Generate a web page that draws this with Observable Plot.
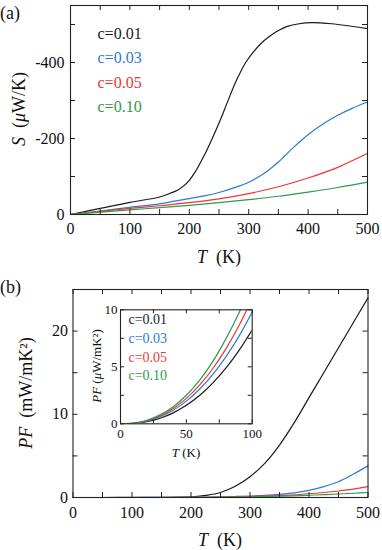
<!DOCTYPE html>
<html><head><meta charset="utf-8">
<script src="https://cdn.jsdelivr.net/npm/d3@7"></script>
<script src="https://cdn.jsdelivr.net/npm/@observablehq/plot@0.6"></script>
<style>
body{margin:0;background:#fff;}
#wrap{position:relative;width:382px;height:550px;overflow:hidden;font-family:"Liberation Serif","DejaVu Serif",serif;background:#fff;}
#wrap svg{position:absolute;}
#wrap svg text{font-family:"Liberation Serif","DejaVu Serif",serif !important;}
</style></head><body><div id="wrap"></div>
<script>
// ---- series / legend ----
const seriesLabels = ["c=0.01", "c=0.03", "c=0.05", "c=0.10"];
const seriesColors = ["#1a1a1a", "#2e7bcf", "#ee3535", "#2f9a4a"];

// ---- (a) Seebeck coefficient S (µV/K) vs T (K) ----
const tS_c001 = [0, 50, 100, 150, 168, 180, 191, 200, 210, 225, 238, 252, 266, 280, 295, 308, 322, 337, 350, 365, 385, 405, 440, 470, 500];
const S_c001  = [0, -16, -32, -46, -56, -64, -76, -90, -112, -155, -198, -248, -303, -355, -400, -428, -452, -471, -484, -495, -502, -505, -502, -496, -489];
const tS_c003 = [0, 50, 100, 150, 175, 200, 225, 250, 275, 300, 325, 350, 375, 400, 425, 450, 475, 500];
const S_c003  = [0, -9, -19, -28, -35, -42, -49, -58, -70, -85, -107, -138, -176, -210, -238, -261, -280, -296];
const tS_c005 = [0, 50, 100, 150, 200, 250, 300, 350, 400, 450, 500];
const S_c005  = [0, -8, -16, -23, -31, -41, -55, -73, -96, -124, -161];
const tS_c010 = [0, 50, 100, 150, 200, 250, 300, 350, 400, 450, 500];
const S_c010  = [0, -6, -12, -18, -24, -31, -39, -48, -59, -71, -85];

// ---- (b) power factor PF (mW/mK^2) vs T (K) ----
const tPF = [0, 50, 100, 150, 200, 225, 250, 275, 300, 325, 350, 375, 400, 425, 450, 475, 500];
const PF_c001 = [0, 0, 0.01, 0.02, 0.08, 0.25, 0.6, 1.35, 2.5, 4.1, 6.3, 9.0, 12.0, 15.0, 18.0, 21.0, 24.0];
const PF_c003 = [0, 0, 0, 0.01, 0.03, 0.05, 0.08, 0.12, 0.18, 0.26, 0.38, 0.55, 0.85, 1.3, 1.9, 2.8, 3.8];
const PF_c005 = [0, 0, 0, 0, 0.01, 0.02, 0.04, 0.07, 0.11, 0.16, 0.23, 0.32, 0.45, 0.6, 0.78, 1.0, 1.3];
const PF_c010 = [0, 0, 0, 0, 0.01, 0.02, 0.03, 0.05, 0.08, 0.11, 0.15, 0.2, 0.27, 0.34, 0.42, 0.51, 0.6];

// ---- inset: PF (µW/mK^2) vs T (K), 0-100 K ----
const tIn = [0, 10, 20, 30, 40, 50, 60, 70, 80, 90, 100];
const In_c001 = [0, 0.04, 0.19, 0.49, 0.96, 1.62, 2.48, 3.57, 4.88, 6.44, 8.25];
const In_c003 = [0, 0.05, 0.24, 0.62, 1.19, 1.99, 3.03, 4.32, 5.87, 7.69, 9.8];
const In_c005 = [0, 0.055, 0.27, 0.69, 1.34, 2.23, 3.39, 4.83, 6.57, 8.62, 10.98];
const In_c010 = [0, 0.06, 0.31, 0.78, 1.5, 2.5, 3.8, 5.45, 7.45, 9.75, 12.4];

// ---- ticks ----
const xTicksMain = [0, 50, 100, 150, 200, 250, 300, 350, 400, 450, 500];
const xLabelsMain = [0, 100, 200, 300, 400, 500];
const yTicksS = [0, -100, -200, -300, -400, -500];
const yLabelsS = [0, -200, -400];
const yTicksPF = [0, 5, 10, 15, 20];
const yLabelsPF = [0, 10, 20];
const xTicksIn = [0, 25, 50, 75, 100];
const xLabelsIn = [0, 50, 100];
const yTicksIn = [0, 2.5, 5, 7.5, 10];
const yLabelsIn = [0, 5, 10];

function table(pairs) {
  const rows = [];
  pairs.forEach(([ts, vs], i) => ts.forEach((t, j) => rows.push({T: t, v: vs[j], c: seriesLabels[i]})));
  return rows;
}
const dataS = table([[tS_c001, S_c001], [tS_c003, S_c003], [tS_c005, S_c005], [tS_c010, S_c010]]);
const dataPF = table([[tPF, PF_c001], [tPF, PF_c003], [tPF, PF_c005], [tPF, PF_c010]]);
const dataIn = table([[tIn, In_c001], [tIn, In_c003], [tIn, In_c005], [tIn, In_c010]]);

function inwardTicks(xt, yt, innerW, innerH, len) {
  return [
    Plot.tickX(xt, {x: d => d, insetTop: innerH - len, stroke: "#222"}),
    Plot.tickX(xt, {x: d => d, insetBottom: innerH - len, stroke: "#222"}),
    Plot.tickY(yt, {y: d => d, insetRight: innerW - len, stroke: "#222"}),
    Plot.tickY(yt, {y: d => d, insetLeft: innerW - len, stroke: "#222"})
  ];
}
function legend(dx, dy0, step, size) {
  return seriesLabels.map((l, i) => Plot.text([l], {
    text: d => d, frameAnchor: "top-left", dx, dy: dy0 + i * step,
    textAnchor: "start", lineAnchor: "middle", fill: seriesColors[i], fontSize: size
  }));
}
const FONT = "Liberation Serif, DejaVu Serif, serif";
const color = {domain: seriesLabels, range: seriesColors};

function addText(svg, x, y, parts, opts = {}) {
  const t = d3.select(svg).append("text")
    .attr("x", x).attr("y", y)
    .attr("text-anchor", opts.anchor || "middle")
    .attr("dominant-baseline", "central")
    .attr("font-size", opts.size || 18)
    .attr("fill", "#111");
  if (opts.rotate) t.attr("transform", `rotate(-90 ${x} ${y})`);
  parts.forEach(([s, it]) => t.append("tspan").attr("font-style", it ? "italic" : "normal").text(s));
  return t;
}

const wrap = document.getElementById("wrap");

// ---- panel (a) ----
{
  const W = 382, H = 270, mL = 70, mR = 15, mT = 5, mB = 56;
  const svg = Plot.plot({
    width: W, height: H, marginLeft: mL, marginRight: mR, marginTop: mT, marginBottom: mB,
    style: {fontFamily: FONT, fontSize: "16px", background: "transparent", color: "#111"},
    x: {domain: [0, 500], axis: null},
    y: {domain: [0, -550], axis: null},
    color,
    marks: [
      Plot.line(dataS, {x: "T", y: "v", z: "c", stroke: "c", strokeWidth: 1.2, curve: "catmull-rom"}),
      ...inwardTicks(xTicksMain, yTicksS, W - mL - mR, H - mT - mB, 5),
      Plot.axisX(xLabelsMain, {tickSize: 0, tickPadding: 8, label: null, fontSize: 16}),
      Plot.axisY(yLabelsS, {tickSize: 0, tickPadding: 6, label: null, fontSize: 16, tickFormat: d => String(d)}),
      ...legend(27, 28, 24.5, 16),
      Plot.frame({stroke: "#222", strokeWidth: 1.1})
    ]
  });
  svg.style.left = "0px"; svg.style.top = "0px";
  wrap.appendChild(svg);
  addText(svg, 0, 13, [["(a)", false]], {anchor: "start", size: 18});
  addText(svg, 219, 257, [["T", true], ["  (K)", false]], {size: 18});
  addText(svg, 19, 109, [["S", true], ["  (", false], ["μ", true], ["W/K)", false]], {size: 18, rotate: true});
}

// ---- panel (b) ----
{
  const W = 382, H = 280, mL = 72.5, mR = 14.5, mT = 19, mB = 53;
  const svg = Plot.plot({
    width: W, height: H, marginLeft: mL, marginRight: mR, marginTop: mT, marginBottom: mB,
    style: {fontFamily: FONT, fontSize: "16px", background: "transparent", color: "#111"},
    x: {domain: [0, 500], axis: null},
    y: {domain: [0, 25], axis: null},
    color,
    marks: [
      Plot.line(dataPF, {x: "T", y: "v", z: "c", stroke: "c", strokeWidth: 1.2, curve: "monotone-x"}),
      ...inwardTicks(xTicksMain, yTicksPF, W - mL - mR, H - mT - mB, 5),
      Plot.axisX(xLabelsMain, {tickSize: 0, tickPadding: 9, label: null, fontSize: 16}),
      Plot.axisY(yLabelsPF, {tickSize: 0, tickPadding: 5, label: null, fontSize: 16}),
      Plot.frame({stroke: "#222", strokeWidth: 1.1})
    ]
  });
  svg.style.left = "0px"; svg.style.top = "270px";
  wrap.appendChild(svg);
  addText(svg, 0, 17, [["(b)", false]], {anchor: "start", size: 18});
  addText(svg, 220, 270, [["T", true], ["  (K)", false]], {size: 18});
  addText(svg, 26, 123, [["PF", true], ["  (mW/mK²)", false]], {size: 18, rotate: true});
}

// ---- inset ----
{
  const W = 195, H = 160, mL = 40, mR = 23.3, mT = 9.3, mB = 36.7;
  const svg = Plot.plot({
    width: W, height: H, marginLeft: mL, marginRight: mR, marginTop: mT, marginBottom: mB,
    style: {fontFamily: FONT, fontSize: "13px", background: "transparent", color: "#111"},
    x: {domain: [0, 100], axis: null},
    y: {domain: [0, 10], axis: null},
    color,
    marks: [
      Plot.line(dataIn, {x: "T", y: "v", z: "c", stroke: "c", strokeWidth: 1.2, curve: "monotone-x", clip: true}),
      ...inwardTicks(xTicksIn, yTicksIn, W - mL - mR, H - mT - mB, 4),
      Plot.axisX(xLabelsIn, {tickSize: 0, tickPadding: 5, label: null, fontSize: 13}),
      Plot.axisY(yLabelsIn, {tickSize: 0, tickPadding: 3, label: null, fontSize: 13}),
      ...legend(8, 10, 18.7, 14),
      Plot.frame({stroke: "#222", strokeWidth: 1.1})
    ]
  });
  svg.style.left = "80px"; svg.style.top = "300px";
  wrap.appendChild(svg);
  addText(svg, 106, 152, [["T", true], [" (K)", false]], {size: 13});
  addText(svg, 16, 66, [["PF", true], [" (", false], ["μ", true], ["W/mK²)", false]], {size: 13, rotate: true});
}
</script></body></html>
